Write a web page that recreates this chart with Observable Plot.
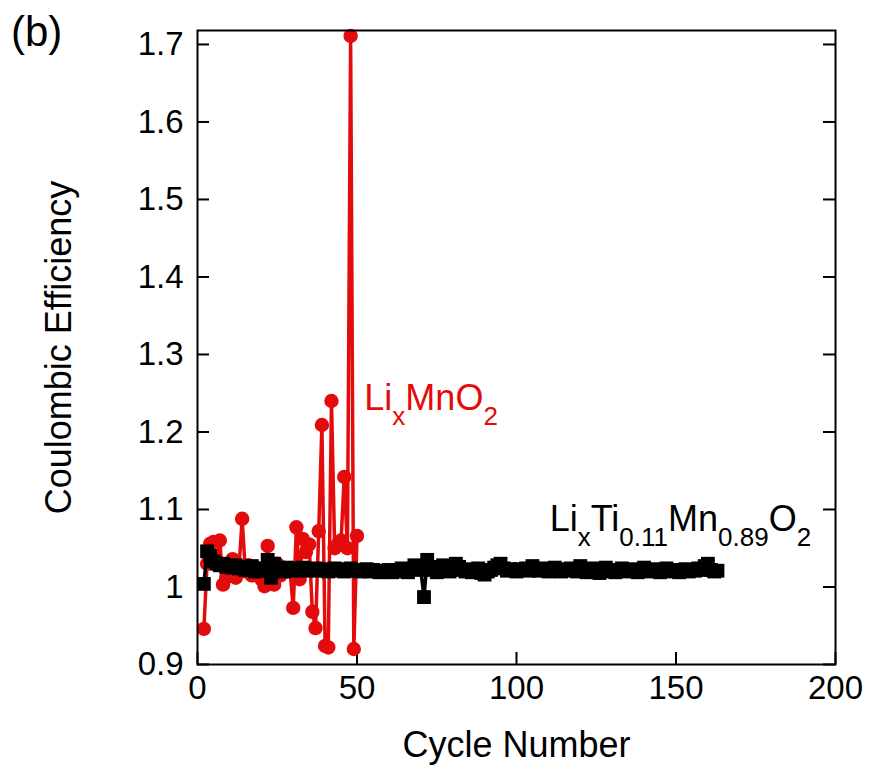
<!DOCTYPE html>
<html><head><meta charset="utf-8">
<script src="https://cdn.jsdelivr.net/npm/d3@7"></script>
<script src="https://cdn.jsdelivr.net/npm/@observablehq/plot@0.6"></script>
<style>
body{margin:0;background:#fff;}
#wrap{position:relative;width:872px;height:779px;}
#panel{position:absolute;left:11px;top:8px;font:42px "Liberation Sans",Arial,sans-serif;color:#000;}
</style></head><body>
<div id="wrap"><div id="panel">(b)</div></div>
<script>
// ---- data ----
const xTicks = [0, 50, 100, 150, 200];
const yTicks = [0.9, 1.0, 1.1, 1.2, 1.3, 1.4, 1.5, 1.6, 1.7];
const yTickLabels = ["0.9", "1", "1.1", "1.2", "1.3", "1.4", "1.5", "1.6", "1.7"];

const redName = "LixMnO2";
const redStartCycle = 2;
const redCE = [
  0.946, 1.030, 1.056, 1.058, 1.030, 1.060, 1.003, 1.012, 1.020, 1.036,
  1.012, 1.025, 1.088, 1.020, 1.028, 1.015, 1.026, 1.020, 1.010, 1.001,
  1.053, 1.012, 1.003, 1.030, 1.015, 1.025, 1.020, 1.022, 0.973, 1.077,
  1.010, 1.062, 1.045, 1.055, 0.968, 0.947, 1.072, 1.209, 0.924, 0.922,
  1.240, 1.050, 1.055, 1.060, 1.142, 1.050, 1.711, 0.920, 1.066
];

const blackName = "LixTi0.11Mn0.89O2";
const blackStartCycle = 2;
const blackCE = [
  1.004, 1.046, 1.040, 1.033, 1.030, 1.028, 1.030, 1.026, 1.027, 1.025,
  1.028, 1.024, 1.026, 1.022, 1.025, 1.027, 1.020, 1.024, 1.023, 1.021,
  1.035, 1.012, 1.030, 1.022, 1.024, 1.020, 1.025, 1.022, 1.021, 1.024,
  1.022, 1.025, 1.021, 1.023, 1.022, 1.024, 1.021, 1.023, 1.022, 1.020,
  1.022, 1.024, 1.021, 1.023, 1.020, 1.022, 1.024, 1.021, 1.022, 1.020,
  1.021, 1.023, 1.020, 1.022, 1.021, 1.019, 1.021, 1.020, 1.022, 1.019,
  1.020, 1.022, 1.024, 1.021, 1.019, 1.023, 1.028, 1.025, 1.022, 0.987,
  1.035, 1.026, 1.022, 1.019, 1.021, 1.028, 1.024, 1.020, 1.023, 1.030,
  1.026, 1.022, 1.020, 1.023, 1.019, 1.022, 1.024, 1.018, 1.016, 1.020,
  1.022, 1.025, 1.028, 1.030, 1.024, 1.021, 1.023, 1.022, 1.020, 1.023,
  1.022, 1.024, 1.021, 1.027, 1.023, 1.021, 1.024, 1.022, 1.020, 1.023,
  1.025, 1.022, 1.020, 1.023, 1.021, 1.024, 1.022, 1.020, 1.027, 1.021,
  1.019, 1.022, 1.024, 1.021, 1.018, 1.022, 1.025, 1.020, 1.022, 1.019,
  1.021, 1.024, 1.022, 1.020, 1.023, 1.021, 1.019, 1.022, 1.025, 1.021,
  1.020, 1.023, 1.021, 1.019, 1.022, 1.024, 1.020, 1.022, 1.021, 1.019,
  1.021, 1.023, 1.020, 1.022, 1.021, 1.024, 1.022, 1.027, 1.030, 1.022,
  1.020, 1.021
];

// annotation anchors (data units) and their subscript parts
const annotations = [
  {text: redName, cycle: 52.3, ce: 1.228, color: "red"},
  {text: blackName, cycle: 110.4, ce: 1.072, color: "black"}
];
const annotationParts = {
  "LixMnO2": [["Li", 0], ["x", 1], ["MnO", 0], ["2", 1]],
  "LixTi0.11Mn0.89O2": [["Li", 0], ["x", 1], ["Ti", 0], ["0.11", 1], ["Mn", 0], ["0.89", 1], ["O", 0], ["2", 1]]
};

// ---- build ----
const RED = "#e30b0b";
const colorOf = {red: RED, black: "#000"};
const red = redCE.map((v, i) => ({cycle: redStartCycle + i, ce: v}));
const black = blackCE.map((v, i) => ({cycle: blackStartCycle + i, ce: v}));

const W = 872, H = 779, mL = 197, mR = 37, mT = 30, mB = 115;
const plotW = W - mL - mR, plotH = H - mT - mB;
const FONT = "'Liberation Sans', Arial, Helvetica, sans-serif";

const chart = Plot.plot({
  width: W, height: H,
  marginLeft: mL, marginRight: mR, marginTop: mT, marginBottom: mB,
  style: {fontFamily: FONT, fontSize: "33px", background: "transparent", overflow: "visible", color: "#000"},
  x: {domain: [0, 200]},
  y: {domain: [0.9, 1.718]},
  marks: [
    Plot.ruleY(yTicks, {insetRight: plotW - 12, strokeWidth: 2}),
    Plot.ruleY(yTicks, {insetLeft: plotW - 12, strokeWidth: 2}),
    Plot.ruleX(xTicks, {insetTop: plotH - 12, strokeWidth: 2}),
    Plot.axisY({ticks: yTicks, tickSize: 0, tickPadding: 14, fontSize: 33, label: null,
      tickFormat: d => yTickLabels[yTicks.findIndex(t => Math.abs(t - d) < 1e-9)]}),
    Plot.axisY({ticks: [], label: "Coulombic Efficiency", labelAnchor: "center", labelOffset: 152, labelArrow: "none", fontSize: 36}),
    Plot.axisX({ticks: xTicks, tickSize: 0, tickPadding: 11, fontSize: 33, label: null}),
    Plot.axisX({ticks: [], label: "Cycle Number", labelAnchor: "center", labelOffset: 92, labelArrow: "none", fontSize: 36}),
    Plot.line(red, {x: "cycle", y: "ce", stroke: RED, strokeWidth: 3.5}),
    Plot.dot(red, {x: "cycle", y: "ce", r: 7.2, fill: RED, stroke: "none"}),
    Plot.line(black, {x: "cycle", y: "ce", stroke: "#000", strokeWidth: 3.5}),
    Plot.dot(black, {x: "cycle", y: "ce", symbol: "square", r: 7.8, fill: "#000", stroke: "none"}),
    Plot.text(annotations, {x: "cycle", y: "ce", text: "text", fill: d => colorOf[d.color],
      textAnchor: "start", lineAnchor: "bottom", fontSize: 36}),
    Plot.frame({stroke: "#000", strokeWidth: 2})
  ]
});

// rebuild annotation texts with real subscripts
d3.select(chart).selectAll("text").each(function() {
  const t = this.textContent;
  const parts = annotationParts[t];
  if (!parts) return;
  const sel = d3.select(this);
  sel.text(null);
  let sub = false;
  parts.forEach(([s, isSub]) => {
    const ts = sel.append("tspan").text(s);
    if (isSub && !sub) { ts.attr("dy", 15).attr("font-size", 26); sub = true; }
    else if (isSub) { ts.attr("font-size", 26); }
    else if (!isSub && sub) { ts.attr("dy", -15); sub = false; }
  });
});

document.getElementById("wrap").prepend(chart);
</script>
</body></html>
